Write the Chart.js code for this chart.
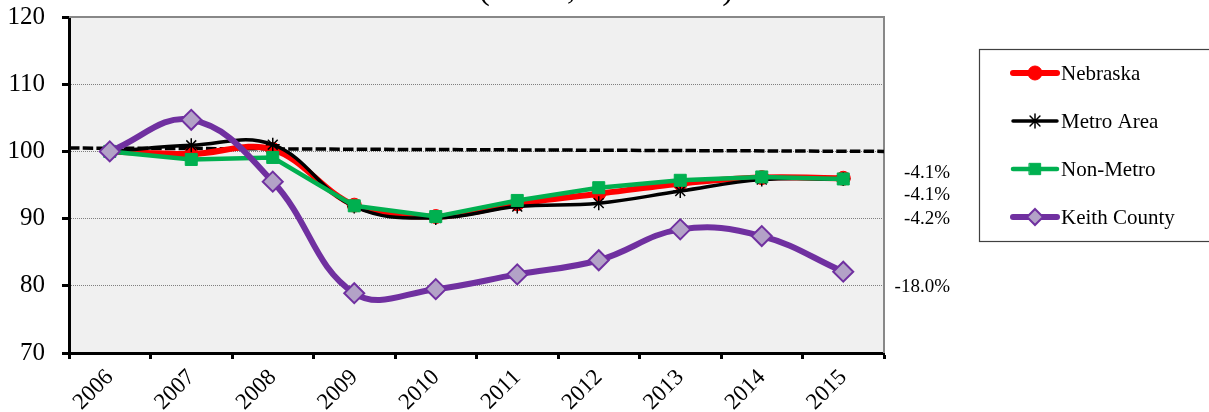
<!DOCTYPE html>
<html><head><meta charset="utf-8">
<script src="https://cdn.jsdelivr.net/npm/chart.js@4"></script>
<style>html,body{margin:0;padding:0;background:#fff;overflow:hidden}#wrap{width:1209px;height:412px;position:relative}</style>
</head><body><div id="wrap"><canvas id="c" width="1209" height="412"></canvas></div>
<script>
const years = ['2006','2007','2008','2009','2010','2011','2012','2013','2014','2015'];
const nebraska    = [100, 99.6, 100.3, 92.0, 90.3, 92.2, 93.7, 95.2, 96.1, 96.0];
const metroArea   = [100, 100.9, 101.0, 91.8, 90.1, 91.8, 92.3, 94.1, 95.8, 95.9];
const nonMetro    = [100, 98.8, 99.1, 91.9, 90.3, 92.7, 94.6, 95.7, 96.2, 95.9];
const keithCounty = [100, 104.7, 95.5, 78.9, 79.5, 81.7, 83.8, 88.4, 87.4, 82.1];
const seriesNames = ['Nebraska','Metro Area','Non-Metro','Keith County'];
const changeLabels = ['-4.1%','-4.1%','-4.2%','-18.0%'];
const baselineEnds = [100.5, 100.0];
const titleText = '(Index, 2006=100)';
const yMin = 70, yMax = 120, yStep = 10;

const SERIF = '"Liberation Serif", "Times New Roman", serif';

const datasets = [
  {label: seriesNames[0], data: nebraska, borderColor:'#ff0000', backgroundColor:'#ff0000',
   borderWidth:6, pointStyle:'circle', pointRadius:7, pointBorderWidth:1, pointBackgroundColor:'#ff0000', pointBorderColor:'#ff0000', tension:0.35, order:3},
  {label: seriesNames[1], data: metroArea, borderColor:'#000000', backgroundColor:'#000000',
   borderWidth:3.5, pointStyle:'star', pointRadius:7, pointBorderWidth:1.5, pointBorderColor:'#000000', pointBackgroundColor:'#000000', tension:0.4, order:2},
  {label: seriesNames[2], data: nonMetro, borderColor:'#00b050', backgroundColor:'#00b050',
   borderWidth:4.5, pointStyle:'rect', pointRadius:8.5, pointBorderWidth:1, pointBackgroundColor:'#00b050', pointBorderColor:'#00b050', tension:0, order:1},
  {label: seriesNames[3], data: keithCounty, borderColor:'#7030a0', backgroundColor:'#b3a2c7',
   borderWidth:6, pointStyle:'rectRot', pointRadius:10, pointBorderWidth:2, pointBackgroundColor:'#b3a2c7', pointBorderColor:'#7030a0', tension:0.4, order:0}
];

function drawMarker(ctx, style, x, y, r, fill, stroke, bw){
  ctx.save();
  ctx.fillStyle = fill; ctx.strokeStyle = stroke; ctx.lineWidth = bw;
  ctx.beginPath();
  if (style === 'circle') { ctx.arc(x, y, r, 0, Math.PI*2); ctx.fill(); ctx.stroke(); }
  else if (style === 'rect') { const s = r*Math.SQRT1_2; ctx.rect(x-s, y-s, 2*s, 2*s); ctx.fill(); ctx.stroke(); }
  else if (style === 'rectRot') { ctx.moveTo(x, y-r); ctx.lineTo(x+r, y); ctx.lineTo(x, y+r); ctx.lineTo(x-r, y); ctx.closePath(); ctx.fill(); ctx.stroke(); }
  else if (style === 'star') {
    ctx.moveTo(x, y-r); ctx.lineTo(x, y+r);
    ctx.moveTo(x-r, y); ctx.lineTo(x+r, y);
    const d = r*Math.SQRT1_2;
    ctx.moveTo(x-d, y-d); ctx.lineTo(x+d, y+d);
    ctx.moveTo(x-d, y+d); ctx.lineTo(x+d, y-d);
    ctx.stroke();
  }
  ctx.restore();
}

const decor = {
  id: 'decor',
  beforeDraw(chart){
    const {ctx, chartArea:a} = chart;
    ctx.save();
    ctx.fillStyle = '#f0f0f0';
    ctx.fillRect(a.left, a.top, a.right-a.left, a.bottom-a.top);
    ctx.restore();
  },
  beforeDatasetsDraw(chart){
    const {ctx, chartArea:a, scales} = chart;
    const y = scales.y;
    ctx.save();
    ctx.strokeStyle = '#888888'; ctx.lineWidth = 2;
    ctx.beginPath(); ctx.moveTo(a.left, a.top); ctx.lineTo(a.right, a.top); ctx.lineTo(a.right, a.bottom); ctx.stroke();
    ctx.strokeStyle = '#000'; ctx.lineWidth = 3.5; ctx.setLineDash([10.5, 3.2]);
    ctx.beginPath();
    ctx.moveTo(a.left, y.getPixelForValue(baselineEnds[0]));
    ctx.lineTo(a.right, y.getPixelForValue(baselineEnds[1]));
    ctx.stroke();
    ctx.restore();
  },
  afterDraw(chart){
    const {ctx, chartArea:a, scales} = chart;
    const y = scales.y;
    ctx.save();
    ctx.fillStyle = '#000';
    ctx.font = '34px ' + SERIF;
    ctx.textAlign = 'center'; ctx.textBaseline = 'alphabetic';
    ctx.fillText(titleText, 606, -1);
    ctx.font = '19px ' + SERIF;
    ctx.textAlign = 'right'; ctx.textBaseline = 'middle';
    const levels = [96.85, 93.45, 90.0, 79.85];
    changeLabels.forEach((t, i) => ctx.fillText(t, 950, y.getPixelForValue(levels[i])));
    const lx = 979.5, ly = 49.5;
    ctx.fillStyle = '#fff'; ctx.fillRect(lx, ly, 260, 192);
    ctx.strokeStyle = '#404040'; ctx.lineWidth = 1.2;
    ctx.strokeRect(lx, ly, 260, 192);
    ctx.font = '21px ' + SERIF; ctx.textAlign = 'left'; ctx.textBaseline = 'middle';
    chart.data.datasets.forEach((ds, i) => {
      const cy = 73 + i*48;
      ctx.strokeStyle = ds.borderColor; ctx.lineWidth = ds.borderWidth; ctx.lineCap = 'round';
      ctx.beginPath(); ctx.moveTo(1013, cy); ctx.lineTo(1057, cy); ctx.stroke();
      drawMarker(ctx, ds.pointStyle, 1035, cy, Math.min(ds.pointRadius, 8), ds.pointBackgroundColor, ds.pointBorderColor, ds.pointBorderWidth);
      ctx.fillStyle = '#000';
      ctx.fillText(ds.label, 1061, cy + 1);
    });
    ctx.restore();
  }
};

new Chart(document.getElementById('c'), {
  type: 'line',
  data: { labels: years, datasets },
  options: {
    responsive: false,
    devicePixelRatio: 1,
    animation: false,
    events: [],
    layout: { padding: { top: 17, right: 325, left: 0, bottom: 0 } },
    plugins: { legend: { display: false }, title: { display: false }, tooltip: { enabled: false } },
    scales: {
      x: {
        offset: true,
        afterFit(s){ s.height = 59; s.paddingLeft = 0; s.paddingRight = 0; },
        grid: { display: true, offset: true, drawOnChartArea: false, drawTicks: true, tickLength: 6, tickColor: '#000', tickWidth: 3 },
        border: { display: true, color: '#000', width: 3 },
        ticks: { color: '#000', font: { family: SERIF, size: 23 }, minRotation: 45, maxRotation: 45, autoSkip: false, padding: 5 }
      },
      y: {
        min: yMin, max: yMax,
        afterFit(s){ s.width = 69; s.paddingTop = 0; s.paddingBottom = 0; },
        grid: { color: '#7f7f7f', lineWidth: 1, drawTicks: true, tickLength: 7, tickColor: '#000', tickWidth: 3 },
        border: { display: true, color: '#000', width: 3, dash: [1,1] },
        ticks: { stepSize: yStep, color: '#000', font: { family: SERIF, size: 25 }, padding: 17 }
      }
    }
  },
  plugins: [decor]
});
</script>
</body></html>
